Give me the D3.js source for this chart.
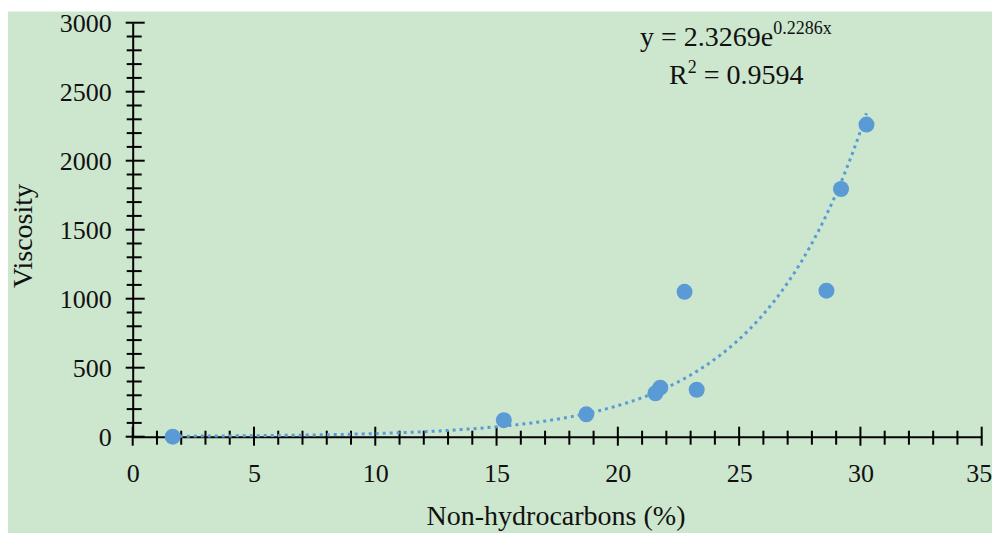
<!DOCTYPE html>
<html>
<head>
<meta charset="utf-8">
<script src="https://cdn.jsdelivr.net/npm/d3@7"></script>
<style>
  body { margin: 0; background: #fff; }
  text { font-family: "Liberation Serif", "Times New Roman", serif; fill: #111; }
</style>
</head>
<body>
<div id="chart"></div>
<script>
// measured values
const nonHydrocarbons = [1.65, 15.3, 18.7, 21.55, 21.75, 22.75, 23.25, 28.6, 29.2, 30.25];
const viscosity = [0, 120, 162, 315, 355, 1050, 340, 1058, 1795, 2262];
const xTickValues = [0, 5, 10, 15, 20, 25, 30, 35];
const yTickValues = [0, 500, 1000, 1500, 2000, 2500, 3000];
// exponential trendline coefficients as printed on the chart
const trendA = 2.3269;
const trendB = 0.2286;

const width = 994, height = 533;
const margin = { top: 22.7, right: 12, bottom: 96.3, left: 132.7 };
const innerW = 981.7 - margin.left;
const innerH = height - margin.top - margin.bottom;
const blue = '#5b9bd5';

const svg = d3.select('#chart').append('svg')
  .attr('width', width)
  .attr('height', height);

// panel background
svg.append('rect')
  .attr('x', 8).attr('y', 11.5)
  .attr('width', 984).attr('height', height - 11.5)
  .attr('fill', '#cde7cf');

const g = svg.append('g')
  .attr('transform', 'translate(' + margin.left + ',' + margin.top + ')');

const x = d3.scaleLinear().domain([0, 35]).range([0, innerW]);
const y = d3.scaleLinear().domain([0, 3000]).range([innerH, 0]);

// x axis
const xAxis = g.append('g')
  .attr('transform', 'translate(0,' + innerH + ')')
  .call(d3.axisBottom(x).tickValues(xTickValues).tickSize(0).tickPadding(27));
xAxis.select('.domain').attr('stroke', '#000').attr('stroke-width', 2);
xAxis.selectAll('text').style('font-size', '26px').attr('fill', '#111')
  .attr('font-family', '"Liberation Serif", serif')
  .attr('dx', d => d === 35 ? -3 : 0);
xAxis.selectAll('.minor')
  .data(d3.range(0, 36))
  .enter().append('line')
  .attr('x1', d => x(d)).attr('x2', d => x(d))
  .attr('y1', d => d % 5 === 0 ? -10 : -6)
  .attr('y2', d => d % 5 === 0 ? 9 : 8)
  .attr('stroke', '#000').attr('stroke-width', 2);

// y axis
const yAxis = g.append('g')
  .call(d3.axisLeft(y).tickValues(yTickValues).tickFormat(d3.format('d')).tickSize(0).tickPadding(21));
yAxis.select('.domain').attr('stroke', '#000').attr('stroke-width', 2);
yAxis.selectAll('text').style('font-size', '26px').attr('fill', '#111')
  .attr('font-family', '"Liberation Serif", serif');
yAxis.selectAll('.minor')
  .data(d3.range(0, 3001, 100))
  .enter().append('line')
  .attr('y1', d => y(d)).attr('y2', d => y(d))
  .attr('x1', d => d % 500 === 0 ? -7 : -6)
  .attr('x2', d => d % 500 === 0 ? 12 : 9)
  .attr('stroke', '#000').attr('stroke-width', 2);

// axis titles
svg.append('text')
  .attr('x', 556).attr('y', 525)
  .attr('text-anchor', 'middle')
  .style('font-size', '28px')
  .text('Non-hydrocarbons (%)');

svg.append('text')
  .attr('transform', 'translate(32,236) rotate(-90)')
  .attr('text-anchor', 'middle')
  .style('font-size', '28px')
  .text('Viscosity');

// trendline
const xMin = d3.min(nonHydrocarbons), xMax = d3.max(nonHydrocarbons);
const trend = d3.range(xMin, xMax, 0.1).concat([xMax])
  .map(v => [v, trendA * Math.exp(trendB * v)]);
g.append('path')
  .datum(trend)
  .attr('fill', 'none')
  .attr('stroke', blue)
  .attr('stroke-width', 3)
  .attr('stroke-dasharray', '3,4')
  .attr('d', d3.line().x(d => x(d[0])).y(d => y(d[1])));

// points
g.selectAll('circle')
  .data(nonHydrocarbons.map((v, i) => ({ x: v, y: viscosity[i] })))
  .enter().append('circle')
  .attr('cx', d => x(d.x))
  .attr('cy', d => y(d.y))
  .attr('r', 8)
  .attr('fill', blue);

// equation label
const eq = svg.append('text')
  .attr('x', 640).attr('y', 46)
  .style('font-size', '28px');
eq.append('tspan').text('y = 2.3269e');
eq.append('tspan').attr('dy', -12).style('font-size', '18px').text('0.2286x');

const r2 = svg.append('text')
  .attr('x', 669).attr('y', 84)
  .style('font-size', '28px');
r2.append('tspan').text('R');
r2.append('tspan').attr('dy', -11).style('font-size', '18px').text('2');
r2.append('tspan').attr('dy', 11).text(' = 0.9594');
</script>
</body>
</html>
